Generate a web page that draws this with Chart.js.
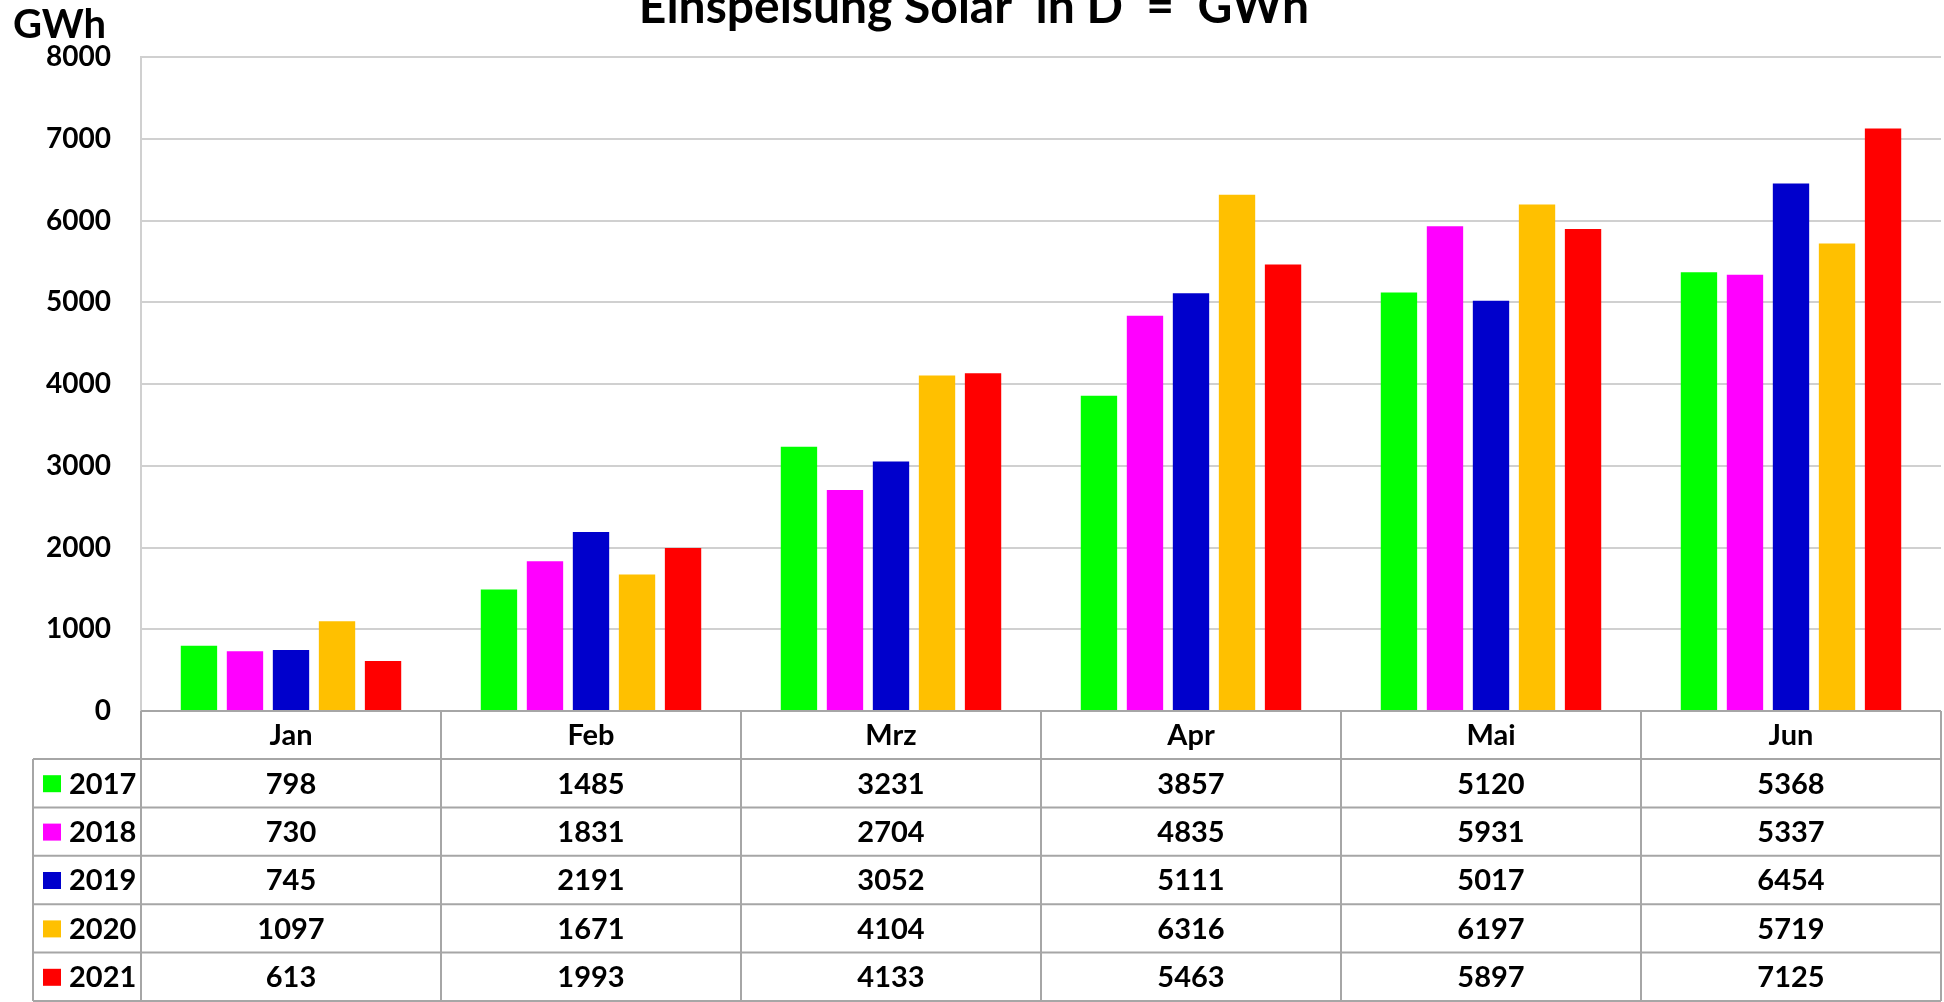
<!DOCTYPE html>
<html lang="de">
<head>
<meta charset="UTF-8">
<title>Einspeisung Solar in D</title>
<script src="https://cdn.jsdelivr.net/npm/chart.js"></script>
<style>
  html, body { margin: 0; padding: 0; background: #fff; }
</style>
</head>
<body>
<canvas id="solarChart" width="1944" height="1002"></canvas>
<script>
// data (GWh per month)
const months = ['Jan', 'Feb', 'Mrz', 'Apr', 'Mai', 'Jun'];
const years = ['2017', '2018', '2019', '2020', '2021'];
const yearColors = ['#00ff00', '#ff00ff', '#0000cc', '#ffc000', '#ff0000'];
const gwh2017 = [798, 1485, 3231, 3857, 5120, 5368];
const gwh2018 = [730, 1831, 2704, 4835, 5931, 5337];
const gwh2019 = [745, 2191, 3052, 5111, 5017, 6454];
const gwh2020 = [1097, 1671, 4104, 6316, 6197, 5719];
const gwh2021 = [613, 1993, 4133, 5463, 5897, 7125];
const yTicks = [0, 1000, 2000, 3000, 4000, 5000, 6000, 7000, 8000];

const title = 'Einspeisung Solar  in D  =  GWh';
const unitLabel = 'GWh';
const fontFam = 'Lato, "Open Sans", sans-serif';

const series = [gwh2017, gwh2018, gwh2019, gwh2020, gwh2021];

// title, unit and the data table under the plot
const tablePlugin = {
  id: 'tablePlugin',
  afterDraw(chart) {
    const ctx = chart.ctx;
    const area = chart.chartArea;
    const xs = chart.scales.x;
    const headH = 48, rowH = 48.4;
    const legLeft = 33;
    const colW = (area.right - area.left) / months.length;
    const top = area.bottom;
    const bottom = top + headH + rowH * years.length;

    ctx.save();
    // texts on top
    ctx.fillStyle = '#000';
    ctx.textBaseline = 'alphabetic';
    ctx.font = 'bold 48px ' + fontFam;
    ctx.textAlign = 'center';
    ctx.fillText(title, chart.width / 2 + 2, 23);
    ctx.font = 'bold 40px ' + fontFam;
    ctx.textAlign = 'left';
    ctx.fillText(unitLabel, 13, 38);

    // grid of the table
    ctx.strokeStyle = '#a6a6a6';
    ctx.lineWidth = 2;
    ctx.beginPath();
    ctx.moveTo(area.left, top);
    ctx.lineTo(area.right, top);
    for (let r = 0; r <= years.length; r++) {
      const y = top + headH + r * rowH;
      ctx.moveTo(legLeft, y);
      ctx.lineTo(area.right, y);
    }
    ctx.moveTo(legLeft, top + headH);
    ctx.lineTo(legLeft, bottom);
    for (let i = 0; i <= months.length; i++) {
      const x = area.left + i * colW;
      ctx.moveTo(x, top);
      ctx.lineTo(x, bottom);
    }
    ctx.stroke();

    // header and values
    ctx.font = 'bold 29px ' + fontFam;
    ctx.textAlign = 'center';
    ctx.textBaseline = 'middle';
    months.forEach((m, i) => {
      ctx.fillText(m, xs.getPixelForValue(i), top + headH / 2 + 1);
    });
    years.forEach((yr, r) => {
      const cy = top + headH + r * rowH + rowH / 2 + 1;
      ctx.fillStyle = yearColors[r];
      ctx.fillRect(43, cy - 9, 18, 17);
      ctx.fillStyle = '#000';
      ctx.textAlign = 'left';
      ctx.fillText(yr, 69, cy);
      ctx.textAlign = 'center';
      series[r].forEach((v, i) => {
        ctx.fillText(String(v), xs.getPixelForValue(i), cy);
      });
    });
    ctx.restore();
  }
};

const ctx = document.getElementById('solarChart').getContext('2d');
new Chart(ctx, {
  type: 'bar',
  data: {
    labels: months,
    datasets: years.map((yr, k) => ({
      label: yr,
      data: series[k],
      backgroundColor: yearColors[k],
      borderWidth: 0,
      barPercentage: 0.79,
      categoryPercentage: 0.767
    }))
  },
  options: {
    responsive: false,
    animation: false,
    devicePixelRatio: 1,
    layout: { padding: { top: 57, bottom: 291, left: 0, right: 3 } },
    plugins: {
      legend: { display: false },
      title: { display: false },
      tooltip: { enabled: false }
    },
    scales: {
      x: { display: false },
      y: {
        min: 0,
        max: 8000,
        afterFit: function (scale) { scale.width = 141; },
        afterBuildTicks: function (scale) {
          scale.ticks = yTicks.map(v => ({ value: v }));
        },
        ticks: {
          padding: 30,
          color: '#000',
          font: { family: fontFam, size: 28, weight: 'bold' },
          callback: function (value) { return String(value); }
        },
        grid: { color: '#d0d0d0', lineWidth: 2, drawTicks: false },
        border: { display: true, color: '#d0d0d0', width: 2 }
      }
    }
  },
  plugins: [tablePlugin]
});
</script>
</body>
</html>
